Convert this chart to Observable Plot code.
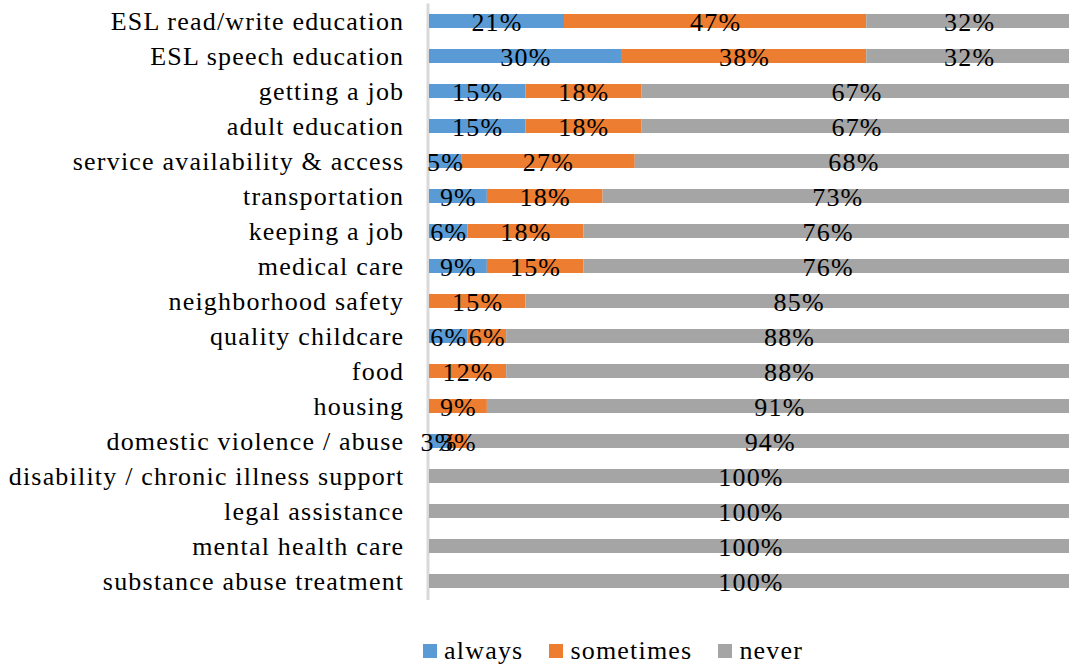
<!DOCTYPE html>
<html>
<head>
<meta charset="utf-8">
<script src="https://cdn.jsdelivr.net/npm/d3@7"></script>
<script src="https://cdn.jsdelivr.net/npm/@observablehq/plot@0.6"></script>
<style>
  html, body { margin: 0; padding: 0; background: #fff; overflow: hidden; }
  #wrap { width: 1069px; overflow: hidden; }
  #chart svg { display: block; }
  .legend { display: flex; align-items: center; margin-top: 26px; padding-left: 423px; height: 30px;
    font-family: "Liberation Serif", "Times New Roman", serif; font-size: 26px; line-height: 30px; letter-spacing: 1.2px; color: #000; }
  .legend .sw { display: inline-block; width: 14px; height: 14px; margin-right: 7px; }
  .legend .item { display: flex; align-items: center; margin-right: 26px; }
</style>
</head>
<body>
<div id="wrap">
  <div id="chart"></div>
  <div class="legend" id="legend"></div>
</div>
<script>
const categories = [
  "ESL read/write education",
  "ESL speech education",
  "getting a job",
  "adult education",
  "service availability & access",
  "transportation",
  "keeping a job",
  "medical care",
  "neighborhood safety",
  "quality childcare",
  "food",
  "housing",
  "domestic violence / abuse",
  "disability / chronic illness support",
  "legal assistance",
  "mental health care",
  "substance abuse treatment"
];
const always    = [21, 30, 15, 15, 5, 9, 6, 9, 0, 6, 0, 0, 3, 0, 0, 0, 0];
const sometimes = [47, 38, 18, 18, 27, 18, 18, 15, 15, 6, 12, 9, 3, 0, 0, 0, 0];
const never     = [32, 32, 67, 67, 68, 73, 76, 76, 85, 88, 88, 91, 94, 100, 100, 100, 100];
const seriesNames = ["always", "sometimes", "never"];
const seriesColors = ["#5b9bd5", "#ed7d31", "#a5a5a5"];

const seriesValues = [always, sometimes, never];
const data = [];
categories.forEach((c, i) => {
  seriesNames.forEach((s, j) => {
    data.push({category: c, series: s, value: seriesValues[j][i]});
  });
});

const chart = Plot.plot({
  width: 1069,
  height: 610,
  marginLeft: 429,
  marginRight: -3,
  marginTop: 3.5,
  marginBottom: 11.5,
  style: {fontFamily: "'Liberation Serif', 'Times New Roman', serif", fontSize: "26px", color: "#000", letterSpacing: "1.2px", background: "#fff"},
  x: {domain: [0, 100], axis: null},
  y: {domain: categories, paddingInner: 0.6, paddingOuter: 0.3, label: null},
  color: {domain: seriesNames, range: seriesColors},
  marks: [
    Plot.ruleX([0], {stroke: "#d9d9d9", strokeWidth: 3, dx: -1.5, insetBottom: -1.5}),
    Plot.barX(data, Plot.stackX({x: "value", y: "category", fill: "series", z: "series", order: seriesNames})),
    Plot.text(data, Plot.stackX({
      filter: d => d.value > 0,
      x: "value", y: "category", z: "series", order: seriesNames,
      text: d => d.value + "%",
      fill: "#000", dy: 1.5
    })),
    Plot.axisY({tickSize: 0, tickPadding: 25.2, label: null})
  ]
});
document.getElementById("chart").appendChild(chart);

const legend = document.getElementById("legend");
seriesNames.forEach((s, i) => {
  const item = document.createElement("span");
  item.className = "item";
  const sw = document.createElement("span");
  sw.className = "sw";
  sw.style.background = seriesColors[i];
  item.appendChild(sw);
  item.appendChild(document.createTextNode(s));
  legend.appendChild(item);
});
</script>
</body>
</html>
